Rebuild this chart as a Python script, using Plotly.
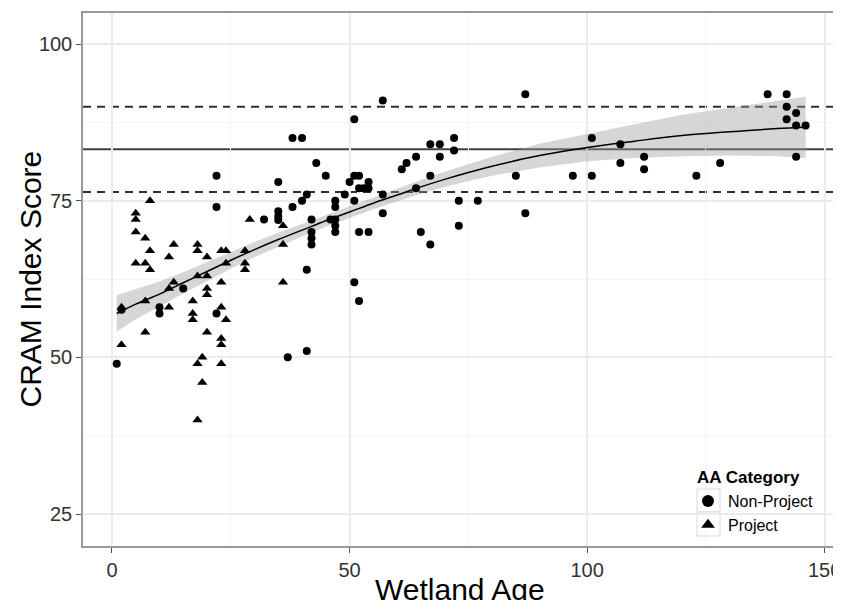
import plotly.graph_objects as go

# ---------------- data ----------------
nonproj_age = [1, 2, 10, 10, 15, 22, 22, 22, 32, 35, 35, 35, 35, 37, 41, 38, 40, 43, 45, 38,
               40, 41, 42, 42, 42, 42, 41, 46, 47, 47, 47, 47, 47, 49, 50, 51, 52, 51, 51, 52,
               53, 54, 54, 52, 54, 51, 52, 57, 57, 57, 61, 62, 64, 64, 65, 67, 69, 67, 69, 67,
               72, 72, 73, 73, 77, 85, 87, 87, 97, 101, 101, 107, 107, 112, 112, 123, 128, 138, 142, 142,
               142, 144, 144, 146, 144]
nonproj_score = [49, 57.6, 58, 57, 61, 57, 79, 74, 72, 78, 73.3, 72.5, 71.9, 50, 51, 85, 85, 81, 79, 74,
                 75, 76, 72, 70, 69, 68, 64, 72, 75, 74, 72, 71, 70, 76, 78, 79, 79, 88, 75, 77,
                 77, 77, 78, 70, 70, 62, 59, 91, 76, 73, 80, 81, 82, 77, 70, 84, 84, 79, 82, 68,
                 85, 83, 75, 71, 75, 79, 92, 73, 79, 79, 85, 84, 81, 82, 80, 79, 81, 92, 92, 90,
                 88, 89, 87, 87, 82]

proj_age = [2, 2, 5, 5, 5, 7, 8, 8, 5, 7, 8, 7, 7, 12, 12, 12, 13, 13, 17, 17,
            17, 18, 18, 18, 18, 18, 19, 19, 20, 20, 20, 20, 20, 23, 24, 23, 23, 24, 24, 23,
            23, 23, 28, 28, 28, 29, 36, 36, 36]
proj_score = [58, 52, 73, 72, 70, 69, 75, 67, 65, 65, 64, 59, 54, 66, 58, 61, 68, 62, 59, 57,
              56, 68, 67, 63, 49, 40, 50, 46, 66, 63, 61, 60, 54, 67, 67, 62, 58, 65, 56, 53,
              52, 49, 67, 65, 64, 72, 71, 68, 62]

# smoothed fit and half-width of its confidence band
smooth_age = [1, 5, 10, 15, 20, 25, 30, 35, 40, 45, 50, 55, 60, 65, 70, 75, 80, 90, 100, 110, 120, 130, 140, 146]
smooth_fit = [57.0, 58.5, 60.1, 61.9, 63.7, 65.5, 67.2, 68.8, 70.3, 71.8, 73.2, 74.6, 75.9, 77.2, 78.4,
              79.5, 80.5, 82.2, 83.5, 84.5, 85.4, 86.0, 86.5, 86.7]
smooth_se = [2.9, 2.4, 2.0, 1.7, 1.5, 1.35, 1.2, 1.1, 1.0, 0.95, 0.95, 0.95, 1.0, 1.1, 1.2,
             1.35, 1.5, 1.9, 2.2, 2.7, 3.3, 3.8, 4.4, 4.9]

ref_mean = 83.2
ref_upper = 90.0
ref_lower = 76.4

x_ticks = [0, 50, 100, 150]
y_ticks = [25, 50, 75, 100]

# ---------------- figure ----------------
# the page body has an 8px default margin, so the figure is sized to end at the window edge
OFF = 8
W, H = 841 - OFF, 600 - OFF
ML, MR, MT, MB = 83 - OFF, 4, 13 - OFF, 54
PW, PH = W - ML - MR, H - MT - MB


def px_x(p):
    """window pixel -> paper fraction"""
    return (p - OFF - ML) / PW


def px_y(p):
    return (H - MB - (p - OFF)) / PH


FONT = "Liberation Sans, Arial, Helvetica, sans-serif"

fig = go.Figure()

band_lo = [f - s for f, s in zip(smooth_fit, smooth_se)]
band_hi = [f + s for f, s in zip(smooth_fit, smooth_se)]
fig.add_trace(go.Scatter(
    x=smooth_age + smooth_age[::-1], y=band_hi + band_lo[::-1],
    fill="toself", fillcolor="rgba(153,153,153,0.4)", line=dict(width=0),
    hoverinfo="skip", showlegend=False, mode="lines"))

fig.add_trace(go.Scatter(
    x=nonproj_age, y=nonproj_score, mode="markers", name="Non-Project",
    marker=dict(symbol="circle", size=8, color="black")))
fig.add_trace(go.Scatter(
    x=proj_age, y=proj_score, mode="markers", name="Project",
    marker=dict(symbol="triangle-up", size=9, color="black")))

fig.add_trace(go.Scatter(
    x=smooth_age, y=smooth_fit, mode="lines", line=dict(color="black", width=1.5, shape="spline"),
    showlegend=False, hoverinfo="skip"))

shapes = [
    dict(type="line", xref="paper", x0=0, x1=1, yref="y", y0=ref_mean, y1=ref_mean,
         line=dict(color="#404040", width=2), layer="below"),
    dict(type="line", xref="paper", x0=0, x1=1, yref="y", y0=ref_upper, y1=ref_upper,
         line=dict(color="#303030", width=2, dash="8px,6px"), layer="below"),
    dict(type="line", xref="paper", x0=0, x1=1, yref="y", y0=ref_lower, y1=ref_lower,
         line=dict(color="#303030", width=2, dash="8px,6px"), layer="below"),
    # legend key boxes
    dict(type="rect", xref="paper", yref="paper", x0=px_x(697), x1=px_x(720), y0=px_y(512), y1=px_y(489),
         line=dict(color="#d9d9d9", width=1), fillcolor="white", layer="below"),
    dict(type="rect", xref="paper", yref="paper", x0=px_x(697), x1=px_x(720), y0=px_y(536), y1=px_y(512),
         line=dict(color="#d9d9d9", width=1), fillcolor="white", layer="below"),
]

annotations = [
    dict(text="Wetland Age", xref="paper", yref="paper", x=0.5, y=0, yanchor="top", xanchor="center",
         yshift=-25, showarrow=False, font=dict(family=FONT, size=30, color="black")),
    dict(text="CRAM Index Score", xref="paper", yref="paper", x=0, y=0.5, xanchor="center", yanchor="middle",
         xshift=-53, textangle=-90, showarrow=False, font=dict(family=FONT, size=30, color="black")),
    dict(text="<b>AA Category</b>", xref="paper", yref="paper", x=px_x(695), y=px_y(477),
         xanchor="left", yanchor="middle", showarrow=False, font=dict(family=FONT, size=17, color="black")),
]

axis_common = dict(
    showline=True, mirror=True, linecolor="#999999", linewidth=1.5,
    showgrid=True, gridcolor="#ebebeb", gridwidth=1.5,
    ticks="outside", ticklen=5, tickcolor="#4d4d4d", tickwidth=1,
    tickfont=dict(family=FONT, size=20, color="#333333"),
    zeroline=False, automargin=False, ticklabeloverflow="allow",
)

fig.update_layout(
    width=W, height=H,
    margin=dict(l=ML, r=MR, t=MT, b=MB, autoexpand=False),
    paper_bgcolor="white", plot_bgcolor="white",
    xaxis=dict(range=[-6.1, 152.6], tickvals=x_ticks, ticktext=[str(v) for v in x_ticks],
               minor=dict(tickvals=[25, 75, 125], showgrid=True, gridcolor="#f4f4f4", gridwidth=1, ticks=""),
               **axis_common),
    yaxis=dict(range=[19.9, 104.95], tickvals=y_ticks, ticktext=[str(v) for v in y_ticks],
               minor=dict(tickvals=[37.5, 62.5, 87.5], showgrid=True, gridcolor="#f4f4f4", gridwidth=1, ticks=""),
               **axis_common),
    shapes=shapes,
    annotations=annotations,
    showlegend=True,
    legend=dict(x=px_x(688), y=px_y(484), xanchor="left", yanchor="top",
                bgcolor="rgba(0,0,0,0)", font=dict(family=FONT, size=16, color="black"),
                itemsizing="constant", tracegroupgap=0, borderwidth=0),
    font=dict(family=FONT),
)

fig.write_html("out.html")
